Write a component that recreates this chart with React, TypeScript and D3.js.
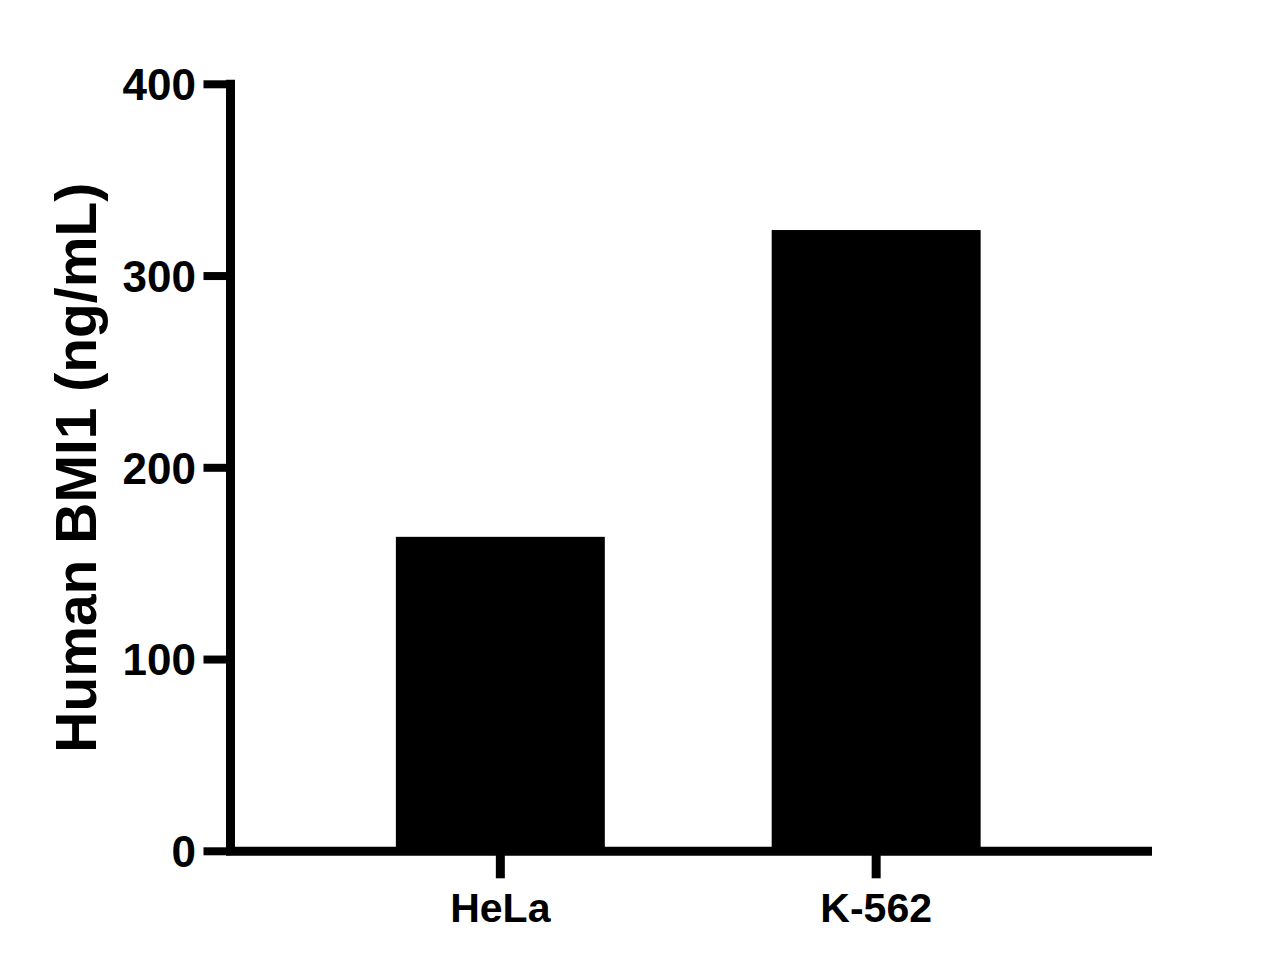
import React from "react";
import * as d3 from "d3";

const categories = ["HeLa", "K-562"];
const values = [164, 324];
const yTicks = [0, 100, 200, 300, 400];
const yTitle = "Human BMI1 (ng/mL)";

const W = 1286;
const H = 972;
const FONT = "'Liberation Sans', Arial, Helvetica, sans-serif";

export default function App() {
  const axisX = 230.5;
  const axisRight = 1152;
  const y = d3.scaleLinear().domain([0, 400]).range([851.3, 84.3]);
  const x = d3
    .scaleBand<string>()
    .domain(categories)
    .range([axisX - 3, axisRight - 3])
    .paddingInner(0.444)
    .paddingOuter(0.448);

  const sw = 9;
  const tickLen = 27;

  return (
    <svg
      width={W}
      height={H}
      viewBox={`0 0 ${W} ${H}`}
      style={{ position: "absolute", left: 0, top: 0, background: "#fff" }}
    >
      <rect x={0} y={0} width={W} height={H} fill="#fff" />
      {/* bars */}
      {categories.map((c, i) => (
        <rect
          key={c}
          x={x(c)!}
          y={y(values[i])}
          width={x.bandwidth()}
          height={y(0) - y(values[i])}
          fill="#000"
        />
      ))}
      {/* y axis line */}
      <line
        x1={axisX}
        x2={axisX}
        y1={y(400) - sw / 2}
        y2={y(0)}
        stroke="#000"
        strokeWidth={sw}
      />
      {/* x axis line */}
      <line
        x1={axisX - sw / 2}
        x2={axisRight}
        y1={y(0)}
        y2={y(0)}
        stroke="#000"
        strokeWidth={sw}
      />
      {/* y ticks */}
      {yTicks.map((t) => (
        <g key={t}>
          <line
            x1={axisX - tickLen}
            x2={axisX}
            y1={y(t)}
            y2={y(t)}
            stroke="#000"
            strokeWidth={sw - 1}
          />
          <text
            x={196}
            y={y(t)}
            dy="0.36em"
            textAnchor="end"
            fontFamily={FONT}
            fontWeight="bold"
            fontSize={44}
            fill="#000"
          >
            {t}
          </text>
        </g>
      ))}
      {/* x ticks */}
      {categories.map((c) => {
        const cx = x(c)! + x.bandwidth() / 2;
        return (
          <g key={c}>
            <line
              x1={cx}
              x2={cx}
              y1={y(0)}
              y2={y(0) + tickLen}
              stroke="#000"
              strokeWidth={sw}
            />
            <text
              x={cx}
              y={922}
              textAnchor="middle"
              fontFamily={FONT}
              fontWeight="bold"
              fontSize={41}
              fill="#000"
            >
              {c}
            </text>
          </g>
        );
      })}
      {/* y title */}
      <text
        transform={`translate(96, ${(y(0) + y(400)) / 2}) rotate(-90)`}
        textAnchor="middle"
        fontFamily={FONT}
        fontWeight="bold"
        fontSize={57}
        fill="#000"
      >
        {yTitle}
      </text>
    </svg>
  );
}
